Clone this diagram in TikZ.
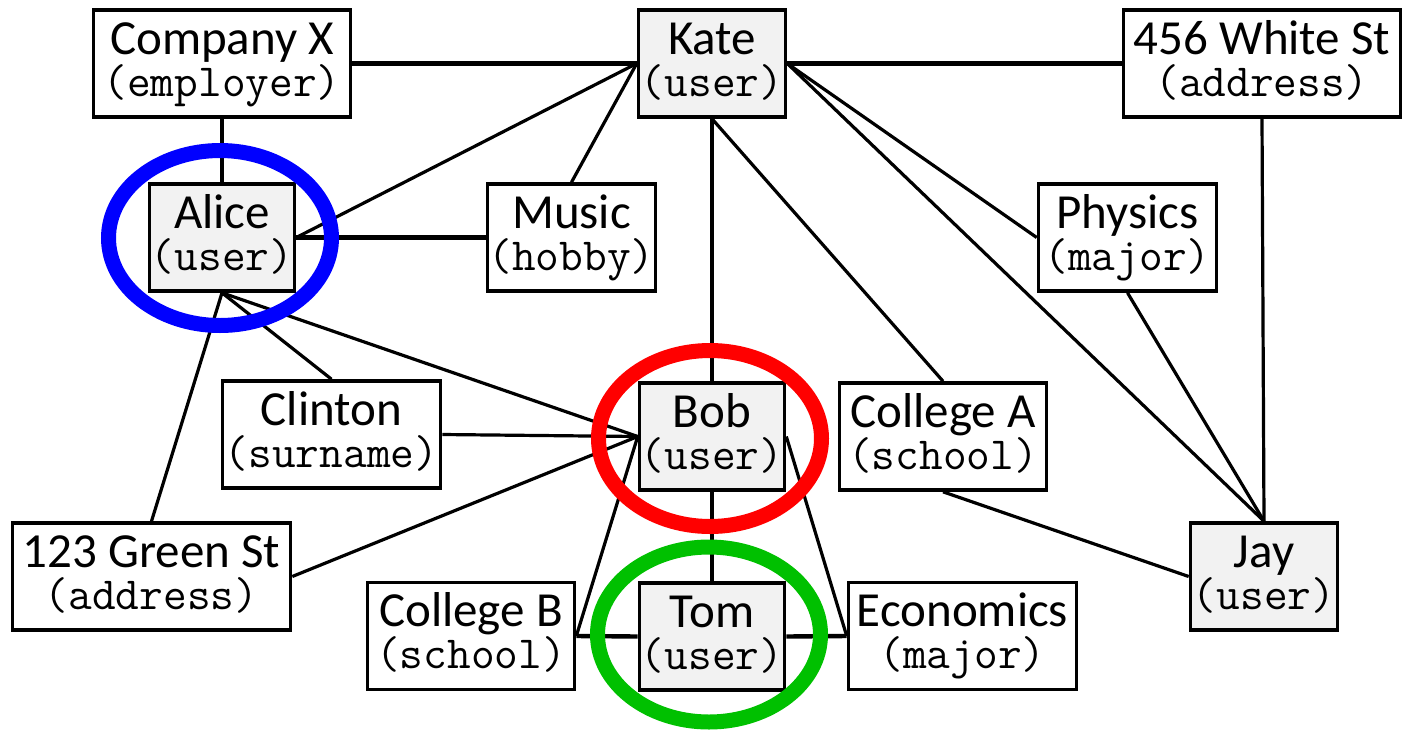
\documentclass[tikz,border=0pt]{standalone}
\usepackage{fontspec}
\setmainfont{Carlito}
\definecolor{userfill}{RGB}{242,242,242}
\definecolor{ringblue}{RGB}{0,0,255}
\definecolor{ringred}{RGB}{255,0,0}
\definecolor{ringgreen}{RGB}{0,192,0}
% two-line label: entity name, then its kind in typewriter type
\newcommand\lab[2]{\rule{0pt}{36pt}#1\\{\ttfamily\fontsize{46}{42}\selectfont\rule[-13pt]{0pt}{13pt}(#2)}}
\begin{document}
\begin{tikzpicture}[x=1pt,y=-1pt,
  entity/.style={draw=black, line width=3.6pt, fill=white, minimum height=107pt,
    inner sep=0pt, align=center, font=\fontsize{49}{42}\selectfont},
  user/.style={entity, fill=userfill},
  link/.style={line width=3.2pt},
  tie/.style={line width=4.4pt},
  ring/.style={line width=15pt}]
\useasboundingbox (0,0) rectangle (1403,729);

% entities
\node[entity, minimum width=257pt] (company)  at (222,63.5)    {\lab{Company X}{employer}};
\node[user,   minimum width=147pt] (kate)     at (712,63.5)    {\lab{Kate}{user}};
\node[entity, minimum width=277pt] (white)    at (1262,63.5)   {\lab{456 White St}{address}};
\node[user,   minimum width=145pt] (alice)    at (222,237.5)   {\lab{Alice}{user}};
\node[entity, minimum width=168pt] (music)    at (571.5,237.5) {\lab{Music}{hobby}};
\node[entity, minimum width=178pt] (physics)  at (1127.5,237.5){\lab{Physics}{major}};
\node[entity, minimum width=218pt] (clinton)  at (331.5,434.5) {\lab{Clinton}{surname}};
\node[user,   minimum width=145pt] (bob)      at (712,436.5)   {\lab{Bob}{user}};
\node[entity, minimum width=207pt] (collegeA) at (943,436.5)   {\lab{College A}{school}};
\node[entity, minimum width=278pt] (green)    at (151.5,576.5) {\lab{123 Green St}{address}};
\node[user,   minimum width=147pt] (jay)      at (1264,576.5)  {\lab{Jay}{user}};
\node[entity, minimum width=207pt] (collegeB) at (471,636)     {\lab{College B}{school}};
\node[user,   minimum width=145pt] (tom)      at (712,636.5)   {\lab{Tom}{user}};
\node[entity, minimum width=228pt] (econ)     at (962.5,636)   {\lab{Economics}{major}};

% straight ties
\draw[tie] (company.east) -- (kate.west);
\draw[tie] (kate.east) -- (white.west);
\draw[tie] (company.south) -- (alice.north);
\draw[tie] (alice.east) -- (music.west);
\draw[tie] (bob.south) -- (tom.north);
\draw[tie] (tom.west) -- (collegeB.east);
\draw[tie] (tom.east) -- (econ.west);

% other links
\draw[link] (kate.west) -- (alice.east);
\draw[link] (kate.west) -- (music.north);
\draw[link] (kate.south) -- (bob.north);
\draw[link] (kate.south) -- (collegeA.north);
\draw[link] (kate.east) -- (physics.west);
\draw[link] (kate.east) -- (jay.north);
\draw[link] (white.south) -- (jay.north);
\draw[link] (physics.south) -- (jay.north);
\draw[link] (collegeA.south) -- (jay.west);
\draw[link] (alice.south) -- (clinton.north);
\draw[link] (alice.south) -- (green.north);
\draw[link] (alice.south) -- (bob.west);
\draw[link] (clinton.east) -- (bob.west);
\draw[link] (green.east) -- (bob.west);
\draw[link] (bob.west) -- (collegeB.east);
\draw[link] (bob.east) -- (econ.west);

% highlight rings
\draw[ring, ringblue]  ([shift={(-2,0.5)}]alice.center) ellipse [x radius=111.5, y radius=87.5];
\draw[ring, ringred]   ([shift={(-2,2)}]bob.center)     ellipse [x radius=111.5, y radius=88];
\draw[ring, ringgreen] ([shift={(-3,-2)}]tom.center)    ellipse [x radius=111.5, y radius=87.5];
\end{tikzpicture}
\end{document}
